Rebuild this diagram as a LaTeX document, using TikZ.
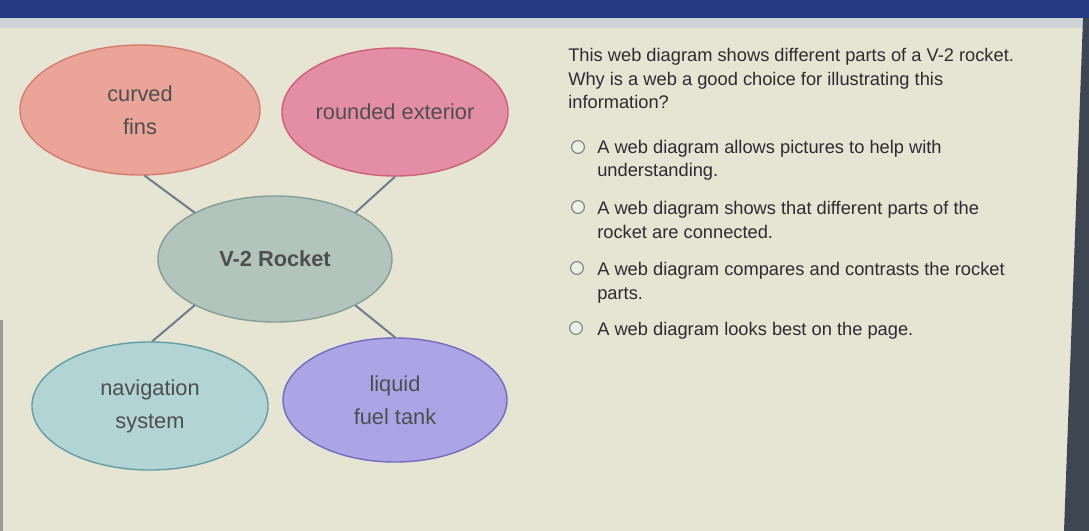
\documentclass[tikz,border=0pt]{standalone}
\usepackage{fontspec}
\setmainfont{Liberation Sans}
\usetikzlibrary{shapes.geometric}

\definecolor{bgcream}{RGB}{230,228,211}
\definecolor{topblue}{RGB}{36,56,132}
\definecolor{stripgray}{RGB}{208,211,214}
\definecolor{edgedark}{RGB}{62,70,82}
\definecolor{finsfill}{RGB}{234,164,152}
\definecolor{finsline}{RGB}{212,124,112}
\definecolor{extfill}{RGB}{228,142,166}
\definecolor{extline}{RGB}{204,96,120}
\definecolor{rocketfill}{RGB}{178,196,188}
\definecolor{rocketline}{RGB}{132,160,150}
\definecolor{navfill}{RGB}{178,212,212}
\definecolor{navline}{RGB}{100,158,164}
\definecolor{fuelfill}{RGB}{172,164,228}
\definecolor{fuelline}{RGB}{116,106,190}
\definecolor{linkgray}{RGB}{108,124,140}
\definecolor{inkgray}{RGB}{78,78,80}
\definecolor{textdark}{RGB}{44,44,50}
\definecolor{radiogray}{RGB}{128,128,128}
\definecolor{radiofill}{RGB}{238,238,232}

\begin{document}
\begin{tikzpicture}[line cap=round,line join=round,x=0.025cm,y=-0.025cm,
  bubble/.style={ellipse,draw,line width=1.pt,inner sep=0pt,align=center,text=inkgray,font=\fontsize{15.5}{23.5}\selectfont},
  link/.style={line width=1.4pt,draw=linkgray},
  radio/.style={circle,draw=radiogray,fill=radiofill,line width=0.8pt,minimum size=0.32cm,inner sep=0pt},
  prompt/.style={anchor=base west,align=left,inner sep=0pt,text=textdark,font=\fontsize{13}{17}\selectfont}]

\useasboundingbox (0,0) rectangle (1089,531);
\fill [bgcream] (0,0) rectangle (1089,531);
\fill [topblue] (0,0) rectangle (1089,18);
\fill [stripgray] (0,18) rectangle (1083,28);
\fill [edgedark] (1083,18) -- (1089,18) -- (1089,531) -- (1064,531) -- cycle;
\fill [radiogray!80] (0,320) rectangle (3,531);

% web diagram
\node [bubble,fill=finsfill,draw=finsline,minimum width=6cm,minimum height=3.25cm] (fins) at (140,110) {curved\\fins};
\node [bubble,fill=extfill,draw=extline,minimum width=5.65cm,minimum height=3.2cm] (ext) at (395,112) {rounded exterior};
\node [bubble,fill=rocketfill,draw=rocketline,minimum width=5.85cm,minimum height=3.15cm,font=\fontsize{15.5}{23.5}\selectfont\bfseries] (rocket) at (275,259) {V-2 Rocket};
\node [bubble,fill=navfill,draw=navline,minimum width=5.9cm,minimum height=3.2cm] (nav) at (150,406) {navigation\\system};
\node [bubble,fill=fuelfill,draw=fuelline,minimum width=5.6cm,minimum height=3.1cm] (fuel) at (395,400) {liquid\\fuel tank};

\draw [link] (fins.-86) -- (rocket.150);
\draw [link] (rocket.30) -- (ext.-90);
\draw [link] (rocket.-150) -- (nav.88);
\draw [link] (rocket.-30) -- (fuel.90);

% question and choices (anchored at the last line)
\node [prompt] (q) at (568,109) {This web diagram shows different parts of a V-2 rocket.\\Why is a web a good choice for illustrating this\\information?};

\node [radio] (r1) at (578,147) {};
\node [radio] (r2) at (578,207) {};
\node [radio] (r3) at (577,268) {};
\node [radio] (r4) at (576,328) {};

\node [prompt] (o1) at (597,177) {A web diagram allows pictures to help with\\understanding.};
\node [prompt] (o2) at (597,238) {A web diagram shows that different parts of the\\rocket are connected.};
\node [prompt] (o3) at (597,299) {A web diagram compares and contrasts the rocket\\parts.};
\node [prompt] (o4) at (597,335) {A web diagram looks best on the page.};
\end{tikzpicture}
\end{document}
